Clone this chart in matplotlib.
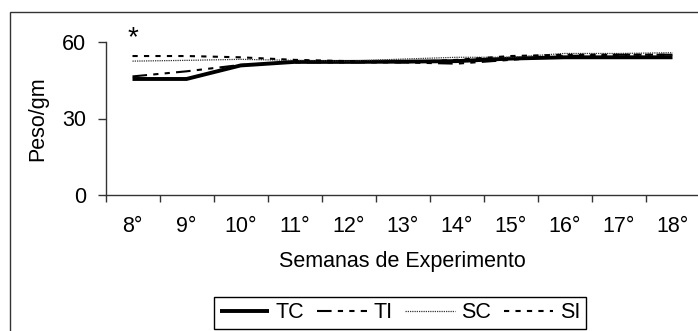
import matplotlib
matplotlib.use("Agg")
import matplotlib.pyplot as plt
from matplotlib.patches import Rectangle

plt.rcParams['font.family'] = ['Liberation Sans', 'DejaVu Sans']

weeks = ["8°", "9°", "10°", "11°", "12°", "13°", "14°", "15°", "16°", "17°", "18°"]
tc = [45.5, 45.5, 50.8, 52.2, 52.2, 52.3, 52.5, 53.5, 54.0, 54.0, 54.0]
ti = [46.5, 48.5, 51.0, 52.0, 52.0, 52.0, 51.5, 53.0, 54.5, 55.0, 55.0]
sc = [52.5, 52.8, 53.2, 52.8, 52.5, 53.3, 54.0, 54.0, 55.5, 55.5, 55.8]
si = [54.5, 54.5, 54.0, 53.0, 52.5, 52.0, 53.0, 54.5, 55.0, 55.0, 55.0]
yticks = [0, 30, 60]

FS = 15.5
W, H = 698, 331
fig = plt.figure(figsize=(W / 100, H / 100), dpi=100)

# outer frame
fig.patches.append(Rectangle((10 / W, 1 - 340 / H), 720 / W, 328 / H,
                             transform=fig.transFigure, fill=False,
                             edgecolor='#333333', linewidth=1.0, clip_on=False))

left, right = 105.5, 699.5
top, bottom = 42, 195
ax = fig.add_axes([left / W, 1 - bottom / H, (right - left) / W, (bottom - top) / H])

x = list(range(len(weeks)))
ax.plot(x, tc, color='black', lw=2.8, solid_capstyle='butt', label='TC')
ax.plot(x, ti, color='black', lw=1.5, linestyle=(0, (7, 3, 2.5, 3, 2.5, 3)), label='TI')
ax.plot(x, sc, color='#333333', lw=0.9, linestyle=(0, (1, 0.8)), label='SC')
ax.plot(x, si, color='black', lw=1.5, linestyle=(0, (2.5, 3)), label='SI')

ax.text(0, 61.5, '*', ha='center', va='center', fontsize=20, clip_on=False)

ax.set_xlim(-0.5, len(weeks) - 0.5)
ax.set_ylim(0, 60)
ax.set_xticks(x)
ax.set_xticklabels(weeks, fontsize=FS)
ax.set_xticks([i - 0.5 for i in range(len(weeks) + 1)], minor=True)
ax.tick_params(axis='x', which='major', length=0, pad=15)
ax.tick_params(axis='x', which='minor', length=5, direction='out', width=1, color='#333333')
ax.set_yticks(yticks)
ax.set_yticklabels([str(v) for v in yticks], fontsize=FS)
ax.tick_params(axis='y', length=6, direction='out', width=1, pad=8, color='#333333')

for s in ['top', 'right']:
    ax.spines[s].set_visible(False)
for s in ['left', 'bottom']:
    ax.spines[s].set_color('#333333')
    ax.spines[s].set_linewidth(1.0)

ax.set_xlabel('Semanas de Experimento', fontsize=FS)
ax.xaxis.label.set_va('center')
ax.xaxis.set_label_coords(0.5, -(262 - bottom) / (bottom - top))
ax.set_ylabel('Peso/gm', fontsize=FS)
ax.yaxis.label.set_va('center')
ax.yaxis.set_label_coords((38 - left) / (right - left), 0.5)

leg = fig.legend(loc='center', bbox_to_anchor=(400 / W, 1 - 313 / H), ncol=4,
                 fontsize=FS, frameon=True, fancybox=False, framealpha=1,
                 edgecolor='black', handlelength=2.3, handletextpad=0.3,
                 columnspacing=0.6, borderpad=0.25, borderaxespad=0)
leg.get_frame().set_linewidth(1.0)

fig.savefig('out.png', dpi=100)
